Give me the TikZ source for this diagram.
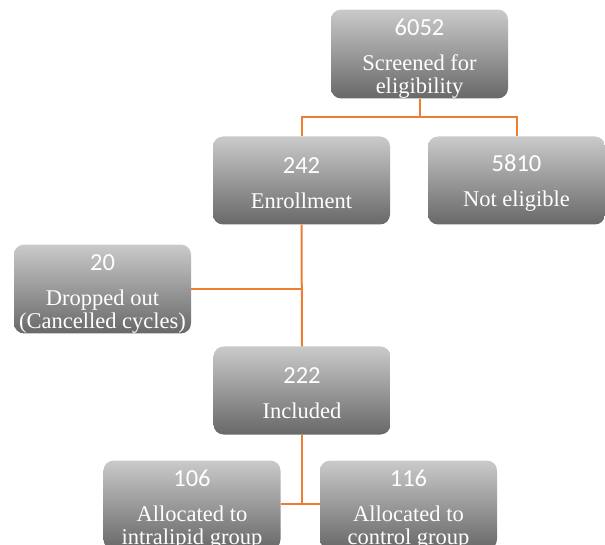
\documentclass[tikz,border=0pt]{standalone}
\usepackage{fontspec}
\setmainfont{Liberation Serif}
\newfontfamily\numfont{Carlito}
\definecolor{boxtop}{RGB}{202,202,202}
\definecolor{boxbot}{RGB}{104,104,104}
\definecolor{conn}{RGB}{237,125,49}
\tikzset{
  flowbox/.style={rounded corners=10pt, top color=boxtop, bottom color=boxbot,
    draw=none, minimum width=177pt, minimum height=88pt, inner sep=0pt,
    text=white, align=center, font=\fontsize{22.5}{23}\selectfont},
  link/.style={draw=conn, line width=2pt},
}
\newcommand{\numline}[2]{{\rule{0pt}{#1}\numfont\fontsize{24.5}{24}\selectfont #2}}
\begin{document}
\begin{tikzpicture}[x=1pt,y=1pt]
\useasboundingbox (0,0) rectangle (605,544);
\node[flowbox] (s) at (419.5,490) {\numline{26pt}{6052}\\[12pt]Screened for\\eligibility};
\node[flowbox] (e) at (301.5,363.5) {\numline{22pt}{242}\\[12pt]Enrollment};
\node[flowbox] (n) at (516.5,363.5) {\numline{22pt}{5810}\\[12pt]Not eligible};
\node[flowbox] (d) at (102.5,255) {\numline{26pt}{20}\\[12pt]Dropped out\\(Cancelled cycles)};
\node[flowbox] (i) at (302,153.5) {\numline{22pt}{222}\\[12pt]Included};
\node[flowbox] (a) at (192,39) {\numline{26pt}{106}\\[12pt]Allocated to\\intralipid group};
\node[flowbox] (c) at (408.5,39) {\numline{26pt}{116}\\[12pt]Allocated to\\control group};
\coordinate (j1) at (419.5,427);
\coordinate (j2) at (302,40);
\draw[link] (s.south) -- (j1);
\draw[link] (e.north) |- (j1) -| (n.north);
\draw[link] (e.south) -- (i.north);
\draw[link] (d.east) -- (d.east -| e.south);
\draw[link] (i.south) -- (j2);
\draw[link] (a.east |- j2) -- (c.west |- j2);
\end{tikzpicture}
\end{document}
